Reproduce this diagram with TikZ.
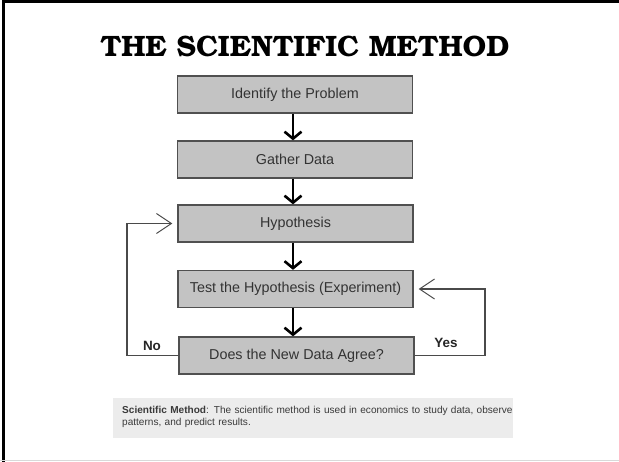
\documentclass[tikz,border=0pt]{standalone}
\usepackage[T1]{fontenc}
\usepackage{fontspec}
\setmainfont{Liberation Sans}
\usetikzlibrary{arrows.meta}
\definecolor{boxfill}{HTML}{C3C3C3}
\definecolor{boxline}{HTML}{505050}
\definecolor{boxtext}{HTML}{333333}
\definecolor{lncolor}{HTML}{4A4A4A}
\definecolor{capfill}{HTML}{ECECEC}
\definecolor{captext}{HTML}{3A3A3A}
\newcommand{\mytitlefont}{\fontencoding{T1}\fontfamily{pbk}\fontseries{b}\fontsize{29.6}{31}\selectfont}
\begin{document}
\begin{tikzpicture}[x=1bp,y=-1bp,
  stepbox/.style={draw=boxline, fill=boxfill, line width=1.3bp, minimum width=235bp,
    minimum height=37bp, inner sep=0pt, text=boxtext, font=\fontsize{14.4}{16}\selectfont},
  flowarrow/.style={line width=2.6bp, black, -{Straight Barb[length=7bp,width=17bp]}},
  looparrow/.style={line width=1.1bp, draw=lncolor, -{Straight Barb[length=15bp,width=20bp,line width=1bp]}},
  looplabel/.style={font=\bfseries\fontsize{13.5}{15}\selectfont, text=black!85}]
\useasboundingbox (0,0) rectangle (619,462);
\fill[white] (0,0) rectangle (619,462);
% frame
\draw[line width=3bp, black] (3.5,462) -- (3.5,1.5) -- (619,1.5);
\draw[line width=1bp, black!15] (0,460.5) -- (619,460.5);
% title
\node (title) at (305,46.5) {\mytitlefont THE SCIENTIFIC METHOD};
% boxes
\node[stepbox] (b1) at (295,94.5) {Identify the Problem};
\node[stepbox] (b2) at (295,159.5) {Gather Data};
\node[stepbox] (b3) at (295.5,223.5) {Hypothesis};
\node[stepbox] (b4) at (295.5,289) {Test the Hypothesis (Experiment)};
\node[stepbox] (b5) at (296.5,355.5) {Does the New Data Agree?};
% flow arrows
\coordinate (ax) at (293,0);
\draw[flowarrow] (b1.south -| ax) -- (b2.north -| ax);
\draw[flowarrow] (b2.south -| ax) -- (b3.north -| ax);
\draw[flowarrow] (b3.south -| ax) -- (b4.north -| ax);
\draw[flowarrow] (b4.south -| ax) -- (b5.north -| ax);
% loops
\coordinate (noc) at (127,0);
\coordinate (yesc) at (485,0);
\draw[looparrow] (b5.west) -| (noc |- b3.west) -- ([xshift=-5bp]b3.west);
\draw[looparrow] (b5.east) -| (yesc |- b4.east) -- ([xshift=5bp]b4.east);
\node[looplabel] (no) at (152,346) {No};
\node[looplabel] (yes) at (446,343) {Yes};
% caption
\fill[capfill] (113,398) rectangle (513,438);
\node[anchor=north west, inner sep=0pt, text width=392bp, align=left, text=captext,
  font=\fontsize{10.1}{12}\selectfont] (cap) at (122,406.5)
  {\textbf{Scientific Method}: The scientific method is used in economics to study data, observe\\patterns, and predict results.};
\end{tikzpicture}
\end{document}
